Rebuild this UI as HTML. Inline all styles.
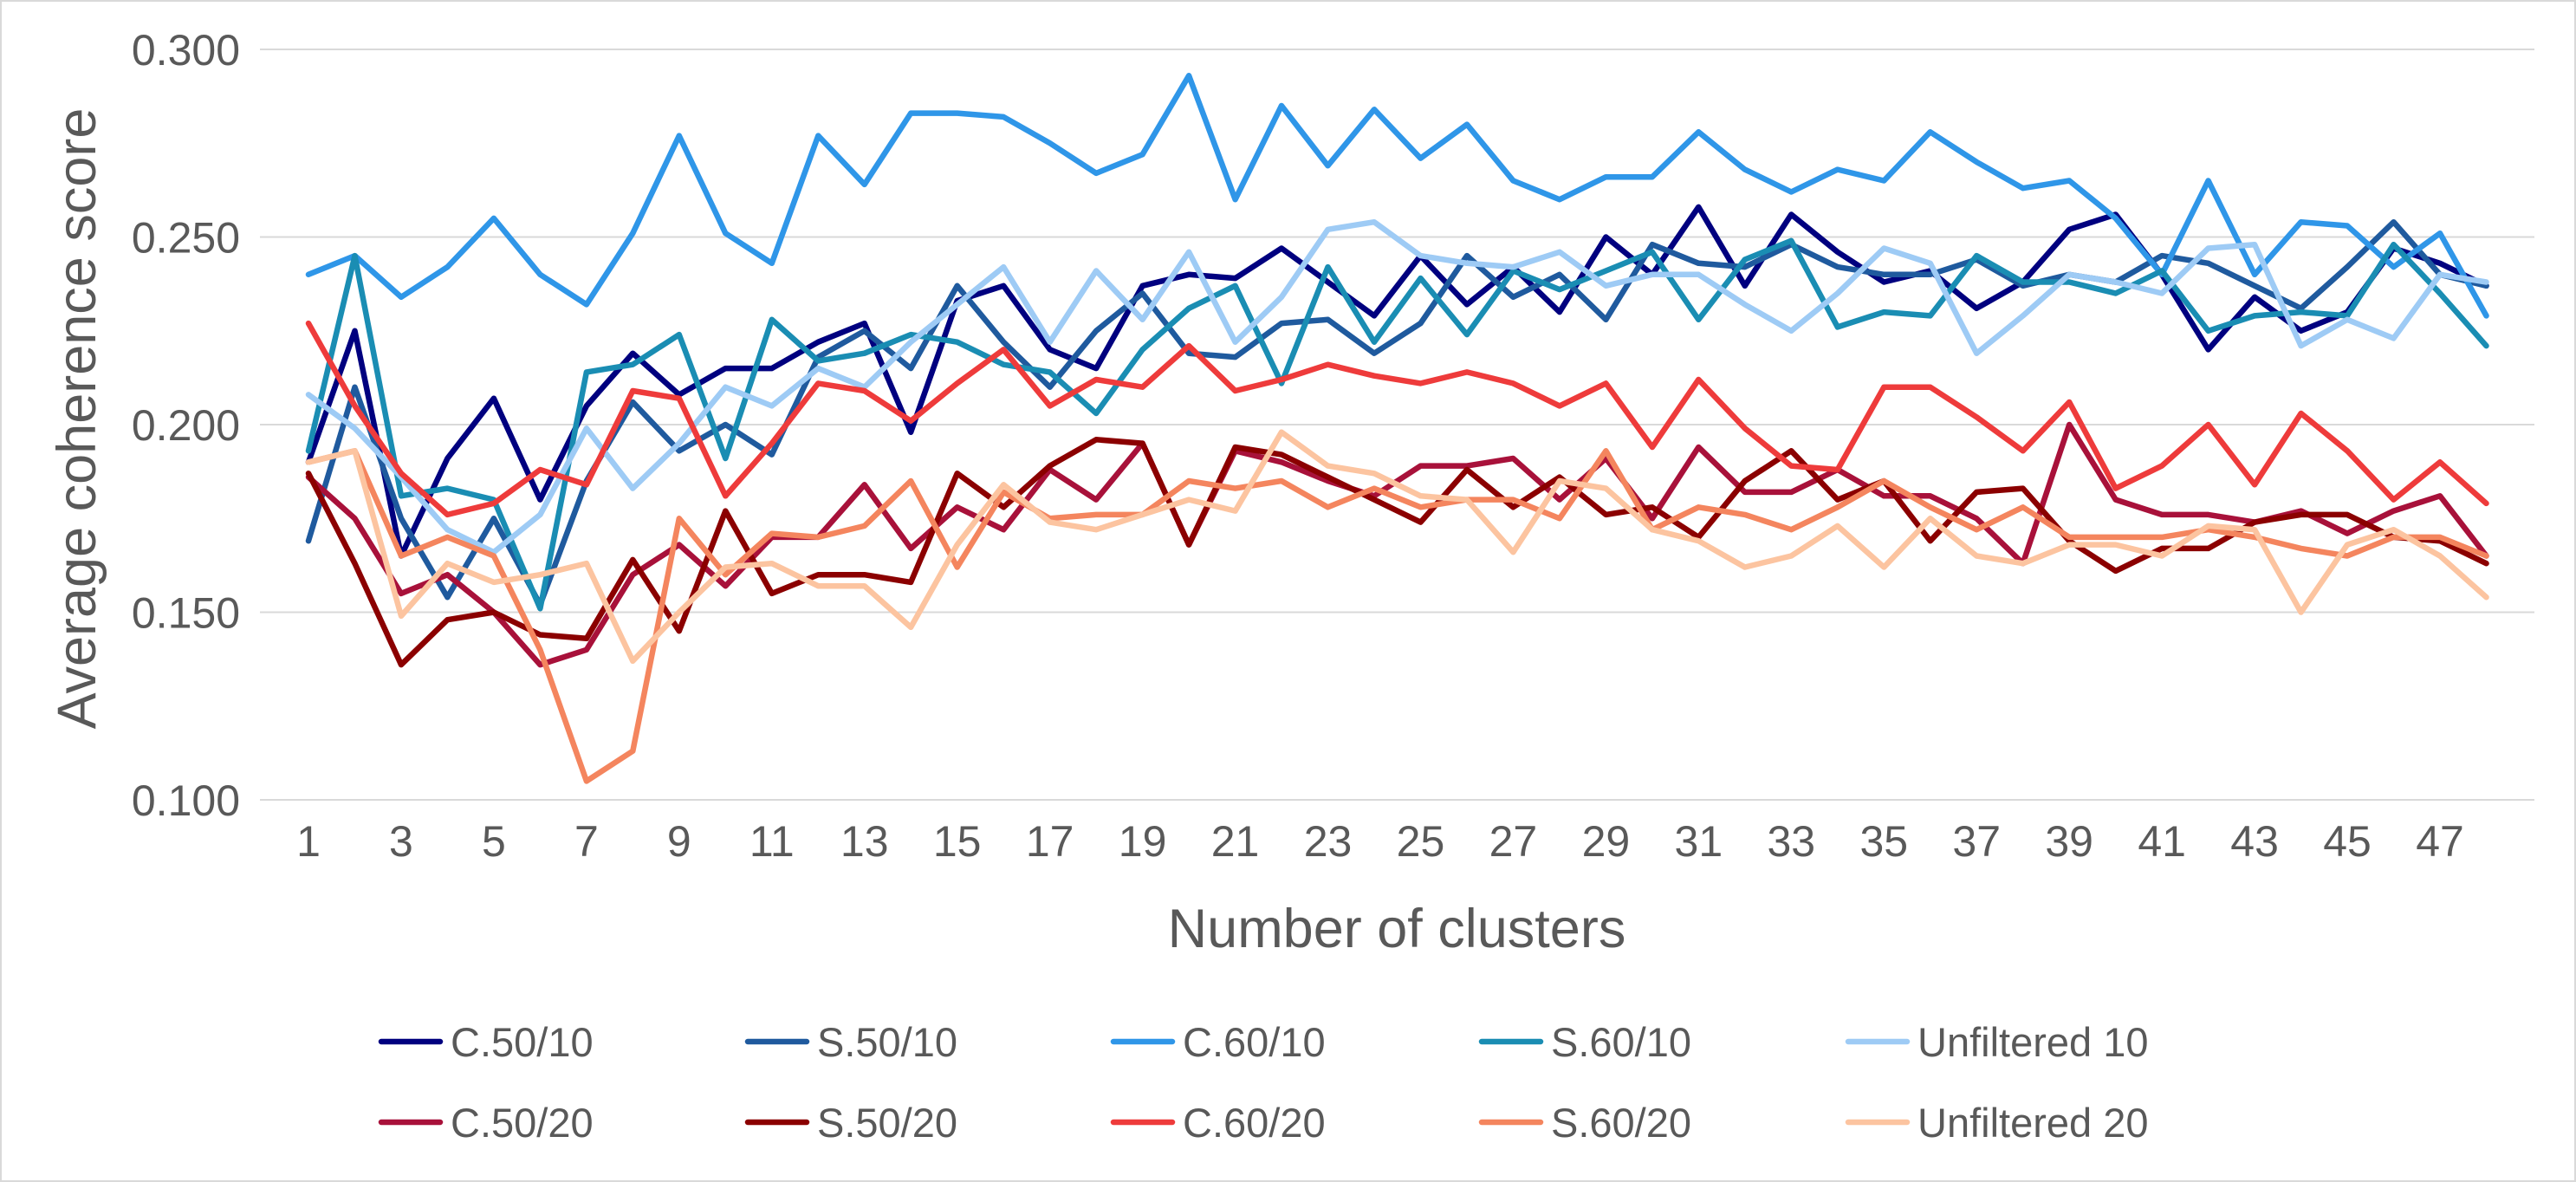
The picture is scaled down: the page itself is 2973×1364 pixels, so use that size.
<!DOCTYPE html>
<html><head><meta charset="utf-8">
<style>
html,body{margin:0;padding:0;background:#fff;}
svg{display:block;font-family:"Liberation Sans",Arial,sans-serif;}
</style></head>
<body>
<svg id="chart" width="2973" height="1364" viewBox="0 0 2973 1364" xmlns="http://www.w3.org/2000/svg">
<rect x="1" y="1" width="2971" height="1362" fill="#fff" stroke="#d9d9d9" stroke-width="2"/>
<g id="grid"></g>
<g id="yticks"></g>
<g id="xticks"></g>
<g id="series"></g>
<text x="110" y="483" transform="rotate(-90 110 483)" text-anchor="middle" font-size="63" fill="#595959">Average coherence score</text>
<text x="1612" y="1093" text-anchor="middle" font-size="63" fill="#595959">Number of clusters</text>
<g id="legend"></g>
</svg>
<script>
const yTicks=[0.100,0.150,0.200,0.250,0.300];
const xTickLabels=[1,3,5,7,9,11,13,15,17,19,21,23,25,27,29,31,33,35,37,39,41,43,45,47];
const seriesNames=["C.50/10","S.50/10","C.60/10","S.60/10","Unfiltered 10","C.50/20","S.50/20","C.60/20","S.60/20","Unfiltered 20"];
const seriesColors=["#00007f","#1f5a9e","#2f96e8","#1a8db3","#9ecbf5","#a8113a","#8b0000","#ee3b3b","#f4855e","#fcc4a0"];
const c5010=[0.190,0.225,0.165,0.191,0.207,0.180,0.205,0.219,0.208,0.215,0.215,0.222,0.227,0.198,0.233,0.237,0.220,0.215,0.237,0.240,0.239,0.247,0.238,0.229,0.245,0.232,0.242,0.230,0.250,0.240,0.258,0.237,0.256,0.246,0.238,0.241,0.231,0.238,0.252,0.256,0.240,0.220,0.234,0.225,0.230,0.247,0.243,0.237];
const s5010=[0.169,0.210,0.175,0.154,0.175,0.152,0.185,0.206,0.193,0.200,0.192,0.218,0.225,0.215,0.237,0.222,0.210,0.225,0.235,0.219,0.218,0.227,0.228,0.219,0.227,0.245,0.234,0.240,0.228,0.248,0.243,0.242,0.248,0.242,0.240,0.240,0.244,0.237,0.240,0.238,0.245,0.243,0.237,0.231,0.242,0.254,0.240,0.237];
const c6010=[0.240,0.245,0.234,0.242,0.255,0.240,0.232,0.251,0.277,0.251,0.243,0.277,0.264,0.283,0.283,0.282,0.275,0.267,0.272,0.293,0.260,0.285,0.269,0.284,0.271,0.280,0.265,0.260,0.266,0.266,0.278,0.268,0.262,0.268,0.265,0.278,0.270,0.263,0.265,0.255,0.240,0.265,0.240,0.254,0.253,0.242,0.251,0.229];
const s6010=[0.193,0.245,0.181,0.183,0.180,0.151,0.214,0.216,0.224,0.191,0.228,0.217,0.219,0.224,0.222,0.216,0.214,0.203,0.220,0.231,0.237,0.211,0.242,0.222,0.239,0.224,0.241,0.236,0.241,0.246,0.228,0.244,0.249,0.226,0.230,0.229,0.245,0.238,0.238,0.235,0.241,0.225,0.229,0.230,0.229,0.248,0.235,0.221];
const unf10=[0.208,0.199,0.186,0.172,0.166,0.176,0.199,0.183,0.195,0.210,0.205,0.215,0.210,0.222,0.232,0.242,0.222,0.241,0.228,0.246,0.222,0.234,0.252,0.254,0.245,0.243,0.242,0.246,0.237,0.240,0.240,0.232,0.225,0.235,0.247,0.243,0.219,0.229,0.240,0.238,0.235,0.247,0.248,0.221,0.228,0.223,0.240,0.238];
const c5020=[0.186,0.175,0.155,0.160,0.150,0.136,0.140,0.160,0.168,0.157,0.170,0.170,0.184,0.167,0.178,0.172,0.188,0.180,0.195,0.168,0.193,0.190,0.185,0.181,0.189,0.189,0.191,0.180,0.191,0.175,0.194,0.182,0.182,0.188,0.181,0.181,0.175,0.163,0.200,0.180,0.176,0.176,0.174,0.177,0.171,0.177,0.181,0.165];
const s5020=[0.187,0.163,0.136,0.148,0.150,0.144,0.143,0.164,0.145,0.177,0.155,0.160,0.160,0.158,0.187,0.178,0.189,0.196,0.195,0.168,0.194,0.192,0.186,0.180,0.174,0.188,0.178,0.186,0.176,0.178,0.170,0.185,0.193,0.180,0.185,0.169,0.182,0.183,0.169,0.161,0.167,0.167,0.174,0.176,0.176,0.170,0.169,0.163];
const c6020=[0.227,0.205,0.187,0.176,0.179,0.188,0.184,0.209,0.207,0.181,0.195,0.211,0.209,0.201,0.211,0.220,0.205,0.212,0.210,0.221,0.209,0.212,0.216,0.213,0.211,0.214,0.211,0.205,0.211,0.194,0.212,0.199,0.189,0.188,0.210,0.210,0.202,0.193,0.206,0.183,0.189,0.200,0.184,0.203,0.193,0.180,0.190,0.179];
const s6020=[0.190,0.193,0.165,0.170,0.165,0.140,0.105,0.113,0.175,0.160,0.171,0.170,0.173,0.185,0.162,0.182,0.175,0.176,0.176,0.185,0.183,0.185,0.178,0.183,0.178,0.180,0.180,0.175,0.193,0.172,0.178,0.176,0.172,0.178,0.185,0.178,0.172,0.178,0.170,0.170,0.170,0.172,0.170,0.167,0.165,0.170,0.170,0.165];
const unf20=[0.190,0.193,0.149,0.163,0.158,0.160,0.163,0.137,0.150,0.162,0.163,0.157,0.157,0.146,0.168,0.184,0.174,0.172,0.176,0.180,0.177,0.198,0.189,0.187,0.181,0.180,0.166,0.185,0.183,0.172,0.169,0.162,0.165,0.173,0.162,0.175,0.165,0.163,0.168,0.168,0.165,0.173,0.172,0.150,0.168,0.172,0.165,0.154];
const seriesData=[c5010,s5010,c6010,s6010,unf10,c5020,s5020,c6020,s6020,unf20];
const seriesKeys=["c-50-10","s-50-10","c-60-10","s-60-10","unfiltered-10","c-50-20","s-50-20","c-60-20","s-60-20","unfiltered-20"];

const NS="http://www.w3.org/2000/svg";
const plotL=300,plotR=2925,x1px=356,x47px=2816;
const yMin=0.1,yMax=0.3,yTop=57,yBot=923;
function xScale(n){return x1px+(n-1)*(x47px-x1px)/46;}
function yScale(v){return yBot-(v-yMin)/(yMax-yMin)*(yBot-yTop);}
function mk(tag,attrs,parent){const e=document.createElementNS(NS,tag);for(const k in attrs)e.setAttribute(k,attrs[k]);parent.appendChild(e);return e;}

const grid=document.getElementById('grid'),yt=document.getElementById('yticks'),xt=document.getElementById('xticks');
yTicks.forEach(v=>{
  const l=mk('line',{x1:plotL,x2:plotR,y1:yScale(v),y2:yScale(v),stroke:'#d9d9d9','stroke-width':2},grid);
  
  
  const t=mk('text',{x:277,y:yScale(v)+18,'text-anchor':'end','font-size':50,fill:'#595959'},yt);
  t.textContent=v.toFixed(3);
  
  
});
xTickLabels.forEach(n=>{
  const t=mk('text',{x:xScale(n),y:988,'text-anchor':'middle','font-size':50,fill:'#595959'},xt);
  t.textContent=n;
  
  
});
const sg=document.getElementById('series');
seriesData.forEach((arr,i)=>{
  const pts=arr.map((v,j)=>xScale(j+1).toFixed(1)+','+yScale(v).toFixed(1)).join(' ');
  const p=mk('polyline',{points:pts,fill:'none',stroke:seriesColors[i],'stroke-width':6.5,'stroke-linejoin':'round','stroke-linecap':'round'},sg);
  
  
});
const lg=document.getElementById('legend');
const colX=[440,863,1285,1710,2133],rowY=[1202,1295];
seriesNames.forEach((nm,i)=>{
  const cx=colX[i%5],cy=rowY[Math.floor(i/5)];
  const g=mk('g',{},lg);
  
  
  mk('line',{x1:cx,x2:cx+68,y1:cy,y2:cy,stroke:seriesColors[i],'stroke-width':6.5,'stroke-linecap':'round'},g);
  const t=mk('text',{x:cx+80,y:cy+17,'font-size':47,fill:'#595959'},g);
  t.textContent=nm;
});
</script>
</body></html>
